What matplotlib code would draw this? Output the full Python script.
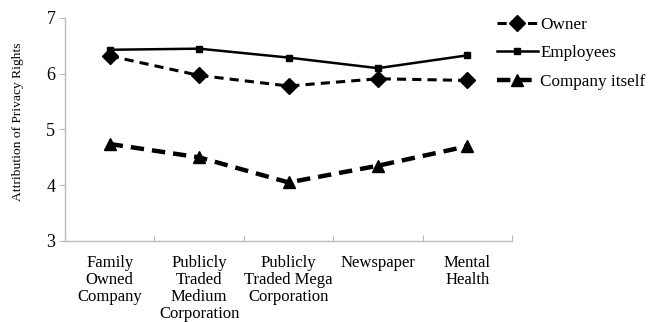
import numpy as np
import matplotlib.pyplot as plt

categories = ["Family\nOwned\nCompany", "Publicly\nTraded\nMedium\nCorporation",
              "Publicly\nTraded Mega\nCorporation", "Newspaper", "Mental\nHealth"]
owner = [6.32, 5.97, 5.78, 5.91, 5.88]
employees = [6.43, 6.45, 6.29, 6.10, 6.33]
company_itself = [4.74, 4.50, 4.05, 4.35, 4.70]
yticks = [3, 4, 5, 6, 7]

plt.rcParams['font.family'] = ['Liberation Serif', 'DejaVu Serif']

fig = plt.figure(figsize=(6.52, 3.22), dpi=100)
ax = fig.add_axes([0.0997, 0.2516, 0.6856, 0.6925])

x = np.arange(len(categories))
ax.plot(x, owner, color='black', linestyle=(0, (3, 2)), linewidth=2.2,
        marker='D', markersize=8, label='Owner')
ax.plot(x, employees, color='black', linestyle='-', linewidth=1.8,
        marker='s', markersize=5, label='Employees')
ax.plot(x, company_itself, color='black', linestyle=(0, (3, 1.8)), linewidth=3.2,
        marker='^', markersize=9, label='Company itself')

ax.set_xlim(-0.5, len(categories) - 0.5)
ax.set_ylim(3, 7)
ax.set_yticks(yticks)
ax.set_yticklabels([str(v) for v in yticks], fontsize=13)

# category ticks sit on the boundaries, labels centred under each point
ax.set_xticks(np.arange(len(categories) + 1) - 0.5)
ax.set_xticklabels([])
ax.set_xticks(x, minor=True)
ax.set_xticklabels(categories, minor=True, fontsize=12, linespacing=1.08, va='top')
ax.tick_params(axis='x', which='major', direction='in', length=4, color='#bbbbbb')
ax.tick_params(axis='x', which='minor', length=0, pad=10)
ax.tick_params(axis='y', direction='out', length=4, color='#bbbbbb', pad=3)

for side in ['top', 'right']:
    ax.spines[side].set_visible(False)
for side in ['left', 'bottom']:
    ax.spines[side].set_color('#bbbbbb')
    ax.spines[side].set_linewidth(1)

fig.text(18 / 652, 1 - 122 / 322, 'Attribution of Privacy Rights', rotation=90,
         ha='center', va='center', fontsize=9.7)

ax.legend(loc='upper left', bbox_to_anchor=(0.966, 1.004), frameon=False,
          fontsize=12.3, handlelength=2.4, handletextpad=0.15, labelspacing=0.72,
          borderpad=0, borderaxespad=0)

fig.savefig('out.png', dpi=100)
